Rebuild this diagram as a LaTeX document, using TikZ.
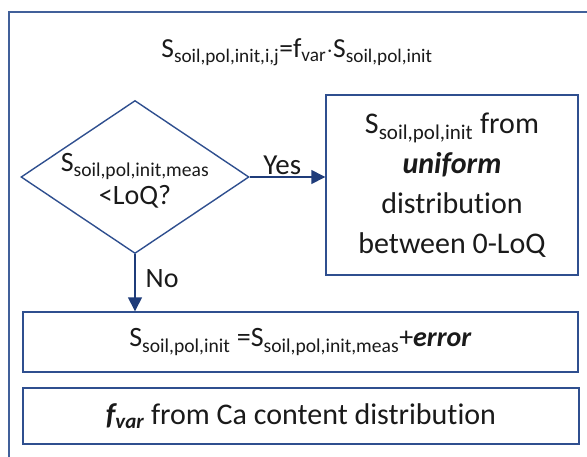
\documentclass[tikz,border=0pt]{standalone}
\usepackage{fontspec}
\setmainfont{Carlito}[Ligatures=NoCommon]
\usetikzlibrary{arrows.meta,shapes.geometric}
\definecolor{frame}{HTML}{41609A}
\definecolor{edge}{HTML}{2F4F8F}
\definecolor{tip}{HTML}{1F3C7A}
\definecolor{ink}{HTML}{1A1A1A}
\newcommand{\Ssp}[1]{S\textsubscript{#1}}
\tikzset{
  txt/.style={ink,font=\fontsize{30}{40}\selectfont,align=center,inner sep=0pt},
  stepbox/.style={draw=edge,line width=1.4pt,fill=white,inner sep=0pt},
  decision/.style={diamond,draw=edge,line width=1.4pt,inner sep=0pt,
    minimum width=228pt,minimum height=153pt},
  flow/.style={tip,line width=1.4pt,-{Triangle[length=14pt,width=14pt]}},
}

\begin{document}
\begin{tikzpicture}[x=1pt,y=-1pt]
\useasboundingbox (0,0) rectangle (587,456);

% ---------------------------------------------------------------- outer frame
\draw[frame,line width=1.6pt] (9,460) -- (9,12) -- (590,12);

% ---------------------------------------------------------------- title
\node[txt,font=\fontsize{27.5}{34}\selectfont] (title) at (297,52)
     {\Ssp{soil,pol,init,i,j}=f\textsubscript{var}$\cdot$\Ssp{soil,pol,init}};

% ---------------------------------------------------------------- boxes
\node[decision] (dec) at (135,177) {};
\node[txt,font=\fontsize{28}{33}\selectfont] (dectxt) at (135,181)
     {\Ssp{soil,pol,init,meas}\\ <LoQ?};
\node[stepbox,minimum width=252pt,minimum height=180pt] (unif) at (452,185) {};
\node[txt] (uniftxt) at (unif.center)
     {\Ssp{soil,pol,init} from\\ \textbf{\textit{uniform}}\\ distribution\\ between 0-LoQ};
\node[stepbox,minimum width=555pt,minimum height=60pt] (err) at (300.5,342)
     {\fontsize{28}{34}\selectfont\color{ink}\Ssp{soil,pol,init} =\Ssp{soil,pol,init,meas}+\textbf{\textit{error}}};
\node[stepbox,minimum width=556pt,minimum height=56pt] (fvar) at (301,416)
     {\fontsize{30}{34}\selectfont\color{ink}\textbf{\textit{f\textsubscript{var}}} from Ca content distribution};

% ---------------------------------------------------------------- connectors
\draw[flow] (dec.east) -- (dec.east -| unif.west)
     node[txt,font=\fontsize{29}{34}\selectfont,pos=0.43,above=2pt] (yes) {Yes};
\draw[flow] (dec.south) -- (dec.south |- err.north)
     node[txt,font=\fontsize{28}{34}\selectfont,pos=0.42,right=10pt] (no) {No};

\end{tikzpicture}
\end{document}
